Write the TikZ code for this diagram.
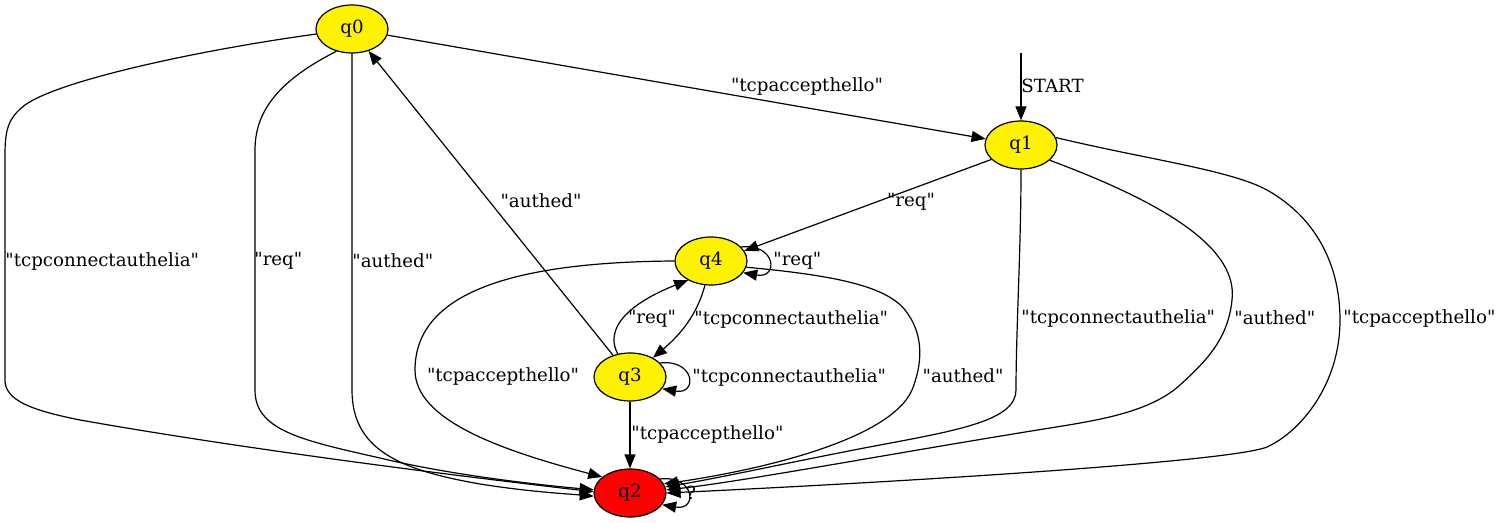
\documentclass[tikz,border=0pt]{standalone}
\usepackage{fontspec}
\setmainfont{DejaVu Serif}[Ligatures=TeXOff]
\usetikzlibrary{arrows.meta,shapes.geometric}
\begin{document}
\begin{tikzpicture}[x=0.5pt,y=-0.5pt,
  every node/.style={font=\fontsize{9.1pt}{10pt}\selectfont},
  state/.style={ellipse,draw,line width=0.6pt,fill=yellow,minimum width=36pt,minimum height=24pt,inner sep=0pt},
  fin/.style={state,fill=red},
  edge/.style={draw,line width=0.6pt,-{Triangle[length=7pt,width=5.5pt]}},
  lab/.style={inner sep=0pt},
  labw/.style={inner sep=0pt,anchor=west}]
\useasboundingbox (0,0) rectangle (1503,523);
\node[state] (q0) at (352,29) {q0};
\node[state] (q1) at (1021,145) {q1};
\node[state] (q4) at (711,261) {q4};
\node[state] (q3) at (630,377) {q3};
\node[fin] (q2) at (630,493) {q2};
\coordinate (s) at (1021,53);

% START
\draw[edge] (s) -- (q1);
\node[labw] (lstart) at (1021,86) {START};

% q0 -> q1
\draw[edge] (q0) -- (q1);
\node[lab] (l01) at (807,86) {"tcpaccepthello"};

% q0 -> q2
\draw[edge] (q0.188) .. controls (200,50) and (60,80) .. (25,105) .. controls (8,118) and (5,130) .. (5,155) -- (5,380) .. controls (5,400) and (30,410) .. (80,420) .. controls (250,450) and (450,475) .. (q2.178);
\node[labw] (l02a) at (5,261) {"tcpconnectauthelia"};
\draw[edge] (q0.235) .. controls (280,80) and (255,110) .. (255,150) -- (255,390) .. controls (255,430) and (300,440) .. (380,458) .. controls (450,475) and (540,485) .. (q2.175);
\node[labw] (l02b) at (254,261) {"req"};
\draw[edge] (q0.south) -- (352,390) .. controls (352,450) and (400,470) .. (480,484) .. controls (530,492) and (570,494) .. (q2.185);
\node[labw] (l02c) at (352,261) {"authed"};

% q3 -> q0
\draw[edge] (q3.128) -- (q0.-53);
\node[lab] (l30) at (541,201) {"authed"};

% q1 -> q4
\draw[edge] (q1.206) -- (q4.17);
\node[lab] (l14) at (911,202) {"req"};

% q4 loop
\draw[edge] (q4.25) .. controls (776,243) and (779,279) .. (q4.-20);
\node[labw] (l44) at (773,261) {"req"};

% q4 -> q3
\draw[edge] (q4.256) .. controls (697,315) and (680,335) .. (q3.40);
\node[labw] (l43) at (694,319) {"tcpconnectauthelia"};

% q3 -> q4
\draw[edge] (q3.118) .. controls (600,320) and (650,295) .. (q4.220);
\node[lab] (l34) at (652,319) {"req"};

% q3 loop
\draw[edge] (q3.25) .. controls (695,359) and (698,395) .. (q3.-20);
\node[labw] (l33) at (692,377) {"tcpconnectauthelia"};

% q3 -> q2
\draw[edge] (q3) -- (q2);
\node[labw] (l32) at (631,434) {"tcpaccepthello"};

% q4 -> q2
\draw[edge] (q4.180) .. controls (520,262) and (415,290) .. (415,370) .. controls (415,420) and (500,450) .. (q2.150);
\node[lab] (l42a) at (503,376) {"tcpaccepthello"};
\draw[edge] (q4.-10) .. controls (830,275) and (885,285) .. (905,310) .. controls (925,335) and (922,365) .. (912,390) .. controls (890,440) and (760,470) .. (q2.15);
\node[lab] (l42b) at (963,376) {"authed"};

% q1 -> q2
\draw[edge] (q1.south) .. controls (1021,250) and (1016,330) .. (1016,390) .. controls (1016,420) and (960,430) .. (880,445) .. controls (800,460) and (720,478) .. (q2.10);
\node[labw] (l12a) at (1021,318) {"tcpconnectauthelia"};
\draw[edge] (q1.-28) .. controls (1170,205) and (1238,250) .. (1232,300) .. controls (1228,340) and (1205,362) .. (1180,385) .. controls (1150,412) and (1100,420) .. (1050,428) .. controls (900,452) and (740,482) .. (q2.5);
\node[labw] (l12b) at (1234,318) {"authed"};
\draw[edge] (q1.12) .. controls (1150,160) and (1230,170) .. (1267,190) .. controls (1320,220) and (1340,270) .. (1340,320) .. controls (1340,385) and (1300,432) .. (1267,447) .. controls (1230,462) and (900,482) .. (q2.0);
\node[labw] (l12c) at (1343,318) {"tcpaccepthello"};

% q2 loop
\draw[edge] (q2.25) .. controls (695,475) and (698,511) .. (q2.-20);
\node[labw] (l22) at (686,493) {?};
\end{tikzpicture}
\end{document}
